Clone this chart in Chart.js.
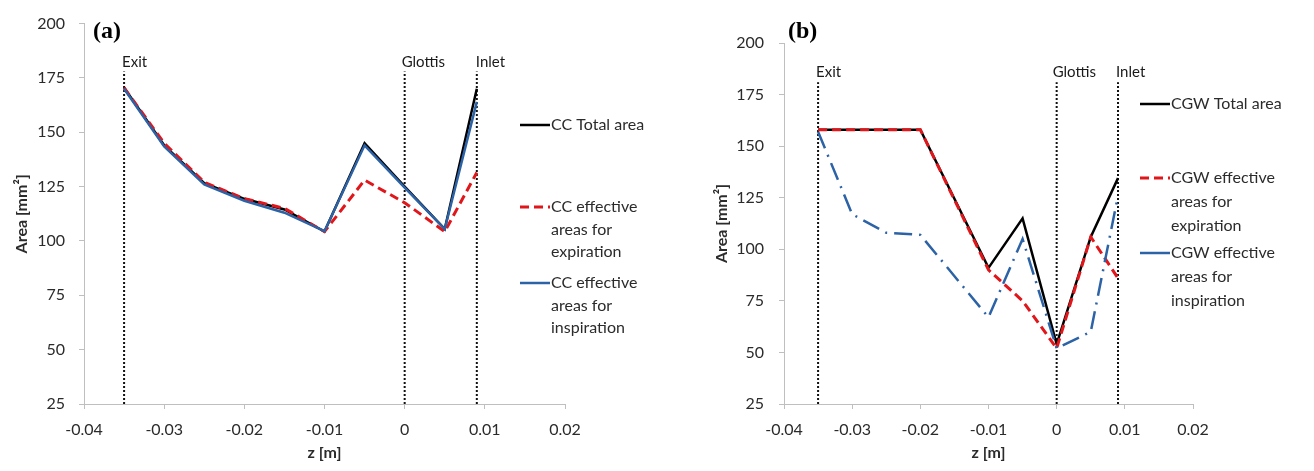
<!DOCTYPE html>
<html><head><meta charset="utf-8">
<script src="https://cdn.jsdelivr.net/npm/chart.js@4.4.1/dist/chart.umd.min.js"></script>
<style>
html,body{margin:0;padding:0;background:#fff;}
#wrap{position:relative;width:1314px;height:471px;overflow:hidden;}
canvas{position:absolute;top:0;}
#ca{left:0;} #cb{left:660px;}
</style></head><body>
<div id="wrap"><canvas id="ca" width="660" height="471"></canvas><canvas id="cb" width="654" height="471"></canvas></div>
<script>
// ---------- data ----------
const zA = [-0.035, -0.03, -0.025, -0.02, -0.015, -0.01, -0.005, 0, 0.005, 0.009];
const ccTotal = [170.5, 144, 126.6, 119.4, 114.5, 104.3, 145, 125, 105.5, 170];
const ccExp   = [170.5, 145, 127, 119.5, 115, 104.3, 128, 117.6, 104.3, 131.5];
const ccInsp  = [170, 143.5, 126, 118.5, 113, 104.5, 144, 124.5, 105.5, 164];

const zBTotal  = [-0.035, -0.02, -0.01, -0.005, 0, 0.005, 0.009];
const cgwTotal = [158, 158, 91, 115, 54, 106, 134.5];
const zBExp    = [-0.035, -0.02, -0.01, -0.005, 0, 0.005, 0.009];
const cgwExp   = [158, 158, 90, 75, 52, 106, 86];
const zBInsp   = [-0.035, -0.03, -0.025, -0.02, -0.01, -0.005, 0, 0.005, 0.009];
const cgwInsp  = [157, 117, 108, 107, 67, 105, 52, 60, 126];

const markerNames = ['Exit', 'Glottis', 'Inlet'];
const markerZ = [-0.035, 0, 0.009];
const markerRange = { a: [25, 178], b: [25, 181] };

const xTickValues = [-0.04, -0.03, -0.02, -0.01, 0, 0.01, 0.02];
const xTickLabels = ['-0.04', '-0.03', '-0.02', '-0.01', '0', '0.01', '0.02'];
const yTickValues = [25, 50, 75, 100, 125, 150, 175, 200];
const yTickLabels = ['25', '50', '75', '100', '125', '150', '175', '200'];

const seriesNamesA = ['CC Total area', 'CC effective areas for expiration', 'CC effective areas for inspiration'];
const seriesNamesB = ['CGW Total area', 'CGW effective areas for expiration', 'CGW effective areas for inspiration'];
const legendLinesA = [['CC Total area'], ['CC effective', 'areas for', 'expiration'], ['CC effective', 'areas for', 'inspiration']];
const legendLinesB = [['CGW Total area'], ['CGW effective', 'areas for', 'expiration'], ['CGW effective', 'areas for', 'inspiration']];

// ---------- helpers ----------
const pts = (xs, ys) => xs.map((x, i) => ({ x, y: ys[i] }));
const FONT = 'Lato';
const BLACK = '#000000', RED = '#e0161b', BLUE = '#2c62a6';
const TXT = '#2b2b2b';

function seriesDatasets(names, sets, blueDash) {
  return [
    { label: names[0], data: sets[0], borderColor: BLACK, borderWidth: 2.5, order: 3 },
    { label: names[1], data: sets[1], borderColor: RED, borderWidth: 3, borderDash: [9, 5], order: 2 },
    { label: names[2], data: sets[2], borderColor: BLUE, borderWidth: 2.5, borderDash: blueDash, order: 1 }
  ].map(d => Object.assign(d, { pointRadius: 0, tension: 0, fill: false }));
}
function markerDatasets(range) {
  return markerZ.map((z, i) => ({
    label: markerNames[i], data: [{ x: z, y: range[0] }, { x: z, y: range[1] }],
    borderColor: '#111', borderWidth: 2, borderDash: [2, 2], pointRadius: 0, order: 10
  }));
}

function scales(yWidth, yTickPad, yTitlePad) {
  return {
    x: {
      type: 'linear', min: -0.04, max: 0.02,
      afterBuildTicks: s => { s.ticks = xTickValues.map(v => ({ value: v })); },
      afterFit: s => { s.height = 67; },
      ticks: { callback: (v, i) => xTickLabels[i], color: TXT, font: { family: FONT, size: 16 }, padding: 11, maxRotation: 0, autoSkip: false },
      grid: { drawOnChartArea: false, color: '#bfbfbf', tickLength: 5 },
      border: { color: '#bfbfbf' },
      title: { display: true, text: 'z [m]', color: TXT, font: { family: FONT, size: 16, weight: 'bold' }, padding: { top: 0, bottom: 9 } }
    },
    y: {
      type: 'linear', min: 25, max: 200,
      afterBuildTicks: s => { s.ticks = yTickValues.map(v => ({ value: v })); },
      afterFit: s => { s.width = yWidth; },
      ticks: { callback: (v, i) => yTickLabels[i], color: TXT, font: { family: FONT, size: 16 }, padding: yTickPad, autoSkip: false },
      grid: { drawOnChartArea: false, color: '#bfbfbf', tickLength: 5 },
      border: { color: '#bfbfbf' },
      title: { display: true, text: 'Area [mm²]', color: TXT, font: { family: FONT, size: 16, weight: 'bold' }, padding: { top: yTitlePad, bottom: 0 } }
    }
  };
}

const overlay = {
  id: 'overlay',
  afterDraw(chart, args, o) {
    const { ctx } = chart; const x = chart.scales.x, y = chart.scales.y;
    ctx.save();
    ctx.textBaseline = 'middle'; ctx.textAlign = 'left';
    ctx.fillStyle = '#000';
    ctx.font = 'bold 24px "Liberation Serif"';
    ctx.fillText(o.letter, o.letterX, o.letterY);
    ctx.font = '15px ' + FONT; ctx.fillStyle = '#1a1a1a';
    markerNames.forEach((n, i) => {
      ctx.fillText(n, x.getPixelForValue(markerZ[i]) + o.markerDx[i], y.getPixelForValue(o.markerTop) - o.markerGap);
    });
    // legend
    ctx.font = '16px ' + FONT; ctx.fillStyle = TXT;
    o.legendLines.forEach((lines, i) => {
      const ds = chart.data.datasets[i];
      const yy = o.legendY[i];
      ctx.save();
      ctx.strokeStyle = ds.borderColor; ctx.lineWidth = ds.borderWidth;
      ctx.setLineDash(o.legendDash[i] || []);
      ctx.beginPath(); ctx.moveTo(o.legendX, yy); ctx.lineTo(o.legendX + 30, yy); ctx.stroke();
      ctx.restore();
      lines.forEach((t, j) => ctx.fillText(t, o.legendX + 31, yy + j * o.legendLH));
    });
    ctx.restore();
  }
};

function build(id, cfg) {
  return new Chart(document.getElementById(id), {
    type: 'line',
    data: { datasets: cfg.datasets },
    options: {
      responsive: false, animation: false, events: [],
      layout: { padding: cfg.padding },
      scales: cfg.scales,
      plugins: { legend: { display: false }, tooltip: { enabled: false }, overlay: cfg.overlay }
    },
    plugins: [overlay]
  });
}

build('ca', {
  datasets: seriesDatasets(seriesNamesA, [pts(zA, ccTotal), pts(zA, ccExp), pts(zA, ccInsp)], []).concat(markerDatasets(markerRange.a)),
  padding: { left: 0, right: 95, top: 18, bottom: 0 },
  scales: scales(84, 14, 12),
  overlay: { letter: '(a)', letterX: 93, letterY: 32, markerTop: markerRange.a[1], markerGap: 9, markerDx: [-2, -3, -1],
    legendLines: legendLinesA, legendX: 520, legendY: [125, 207, 283], legendLH: 22.5, legendDash: [[], [9, 5], []] }
});
build('cb', {
  datasets: seriesDatasets(seriesNamesB, [pts(zBTotal, cgwTotal), pts(zBExp, cgwExp), pts(zBInsp, cgwInsp)], [18, 7, 2, 7]).concat(markerDatasets(markerRange.b)),
  padding: { left: 0, right: 121, top: 43, bottom: 0 },
  scales: scales(124, 15, 52),
  overlay: { letter: '(b)', letterX: 128, letterY: 32, markerTop: markerRange.b[1], markerGap: 10, markerDx: [-2, -4, -2],
    legendLines: legendLinesB, legendX: 480, legendY: [104, 178, 253], legendLH: 24, legendDash: [[], [9, 5], []] }
});
</script>
</body></html>
